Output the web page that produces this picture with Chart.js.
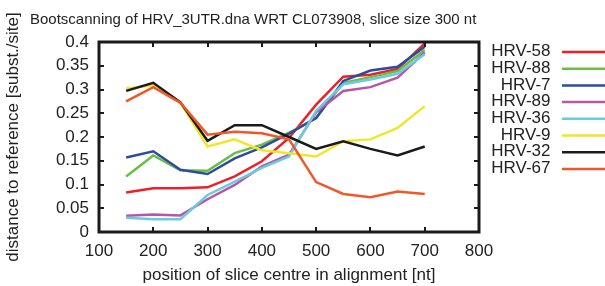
<!DOCTYPE html>
<html>
<head>
<meta charset="utf-8">
<script src="https://cdn.jsdelivr.net/npm/chart.js@4"></script>
<style>
  html, body { margin: 0; padding: 0; background: #fff; }
  #wrap { width: 605px; height: 286px; }
</style>
</head>
<body>
<div id="wrap"><canvas id="bootscan" width="605" height="286"></canvas></div>
<script>
// slice centres (nt)
const slicePositions = [150, 200, 250, 300, 350, 400, 450, 500, 550, 600, 650, 700];

// distance to reference per sequence
const hrv58 = [0.083, 0.092, 0.092, 0.094, 0.117, 0.149, 0.198, 0.268, 0.327, 0.331, 0.343, 0.397];
const hrv88 = [0.117, 0.161, 0.130, 0.129, 0.166, 0.184, 0.209, 0.240, 0.314, 0.326, 0.339, 0.383];
const hrv7  = [0.157, 0.170, 0.131, 0.122, 0.155, 0.178, 0.207, 0.240, 0.318, 0.340, 0.348, 0.390];
const hrv89 = [0.034, 0.037, 0.035, 0.069, 0.099, 0.138, 0.163, 0.252, 0.297, 0.305, 0.325, 0.378];
const hrv36 = [0.030, 0.027, 0.027, 0.078, 0.106, 0.135, 0.159, 0.255, 0.311, 0.321, 0.333, 0.374];
const hrv9  = [0.302, 0.309, 0.272, 0.180, 0.195, 0.172, 0.166, 0.159, 0.191, 0.195, 0.219, 0.265];
const hrv32 = [0.297, 0.314, 0.273, 0.192, 0.225, 0.225, 0.200, 0.175, 0.191, 0.175, 0.161, 0.180];
const hrv67 = [0.275, 0.305, 0.272, 0.205, 0.211, 0.208, 0.195, 0.105, 0.080, 0.073, 0.085, 0.080];

const seriesNames = ['HRV-58', 'HRV-88', 'HRV-7', 'HRV-89', 'HRV-36', 'HRV-9', 'HRV-32', 'HRV-67'];
const seriesValues = [hrv58, hrv88, hrv7, hrv89, hrv36, hrv9, hrv32, hrv67];
const seriesColors = ['#ee1f26', '#6cbd45', '#2f4b9f', '#b556a9', '#6acbe0', '#f0e62a', '#1a1a1a', '#f2572a'];

// tick labels
const xTickLabels = ['100', '200', '300', '400', '500', '600', '700', '800'];
const yTickLabels = ['0', '0.05', '0.1', '0.15', '0.2', '0.25', '0.3', '0.35', '0.4'];

const chartTitle = 'Bootscanning of HRV_3UTR.dna WRT CL073908, slice size 300 nt';
const xTitle = 'position of slice centre in alignment [nt]';
const yTitle = 'distance to reference [subst./site]';

const FONT = '"Liberation Sans", Arial, Helvetica, sans-serif';

/**
 * Frame with inward ticks, title and the gnuplot style key
 */
const gnuplotDecor = {
    id: 'gnuplotDecor',
    afterDraw(chart) {
        const ctx = chart.ctx;
        const area = chart.chartArea;
        const xs = chart.scales.x;
        const ys = chart.scales.y;
        ctx.save();

        // inward ticks on all four sides
        ctx.strokeStyle = '#1a1a1a';
        ctx.lineWidth = 2;
        ctx.beginPath();
        xs.ticks.forEach(t => {
            const px = Math.round(xs.getPixelForValue(t.value));
            ctx.moveTo(px, area.bottom);
            ctx.lineTo(px, area.bottom - 5);
            ctx.moveTo(px, area.top);
            ctx.lineTo(px, area.top + 5);
        });
        ys.ticks.forEach(t => {
            const py = Math.round(ys.getPixelForValue(t.value));
            ctx.moveTo(area.left, py);
            ctx.lineTo(area.left + 5, py);
            ctx.moveTo(area.right, py);
            ctx.lineTo(area.right - 5, py);
        });
        ctx.stroke();

        // frame
        ctx.lineWidth = 3;
        ctx.strokeRect(area.left, area.top, area.right - area.left, area.bottom - area.top);

        // title
        ctx.fillStyle = '#222';
        ctx.font = '15px ' + FONT;
        ctx.textAlign = 'left';
        ctx.textBaseline = 'alphabetic';
        ctx.fillText(chartTitle, 30, 24);

        // key
        ctx.font = '17px ' + FONT;
        ctx.textAlign = 'right';
        ctx.textBaseline = 'middle';
        ctx.lineWidth = 2.5;
        chart.data.datasets.forEach((ds, i) => {
            const y = 51.5 + i * 16.7;
            ctx.fillStyle = '#222';
            ctx.fillText(ds.label, 550.5, y);
            ctx.strokeStyle = ds.borderColor;
            ctx.beginPath();
            ctx.moveTo(562, y + 0.5);
            ctx.lineTo(606, y + 0.5);
            ctx.stroke();
        });
        ctx.restore();
    }
};

const datasets = seriesNames.map((name, i) => ({
    label: name,
    data: slicePositions.map((x, j) => ({ x: x, y: seriesValues[i][j] })),
    borderColor: seriesColors[i],
    backgroundColor: seriesColors[i],
    borderWidth: 2.5,
    pointRadius: 0,
    tension: 0,
    fill: false,
    order: seriesNames.length - i
}));

new Chart(document.getElementById('bootscan'), {
    type: 'line',
    data: { datasets: datasets },
    options: {
        responsive: false,
        animation: false,
        devicePixelRatio: 1,
        layout: { padding: { left: 0, top: 42, right: 126, bottom: 0 } },
        plugins: {
            legend: { display: false },
            tooltip: { enabled: false },
            title: { display: false }
        },
        scales: {
            x: {
                type: 'linear',
                min: 100,
                max: 800,
                border: { display: false },
                grid: { display: false, drawTicks: false },
                ticks: {
                    stepSize: 100,
                    autoSkip: false,
                    maxRotation: 0,
                    padding: 9,
                    color: '#222',
                    font: { family: FONT, size: 17 },
                    callback: v => xTickLabels[Math.round((v - 100) / 100)]
                },
                title: {
                    display: true,
                    text: xTitle,
                    color: '#222',
                    font: { family: FONT, size: 17 },
                    padding: { top: 2, bottom: 0 }
                },
                afterFit: scale => { scale.height = 54; }
            },
            y: {
                type: 'linear',
                min: 0,
                max: 0.4,
                border: { display: false },
                grid: { display: false, drawTicks: false },
                ticks: {
                    stepSize: 0.05,
                    autoSkip: false,
                    padding: 10,
                    color: '#222',
                    font: { family: FONT, size: 17 },
                    callback: v => yTickLabels[Math.round(v / 0.05)]
                },
                title: {
                    display: true,
                    text: yTitle,
                    color: '#222',
                    font: { family: FONT, size: 17 },
                    padding: { top: 3, bottom: 0 }
                },
                afterFit: scale => { scale.width = 99; }
            }
        }
    },
    plugins: [gnuplotDecor]
});
</script>
</body>
</html>
